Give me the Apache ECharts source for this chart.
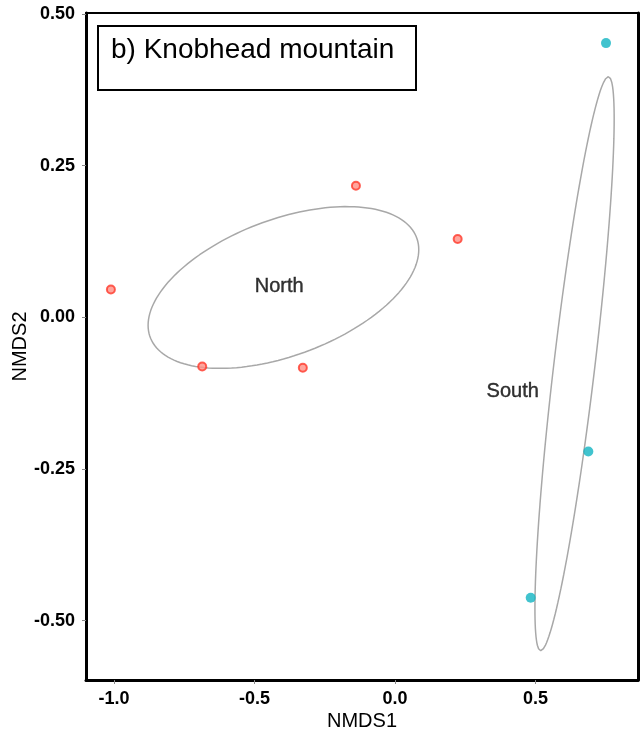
<!DOCTYPE html>
<html>
<head>
<meta charset="utf-8">
<script src="https://cdn.jsdelivr.net/npm/echarts@6/dist/echarts.min.js"></script>
<style>
html,body{margin:0;padding:0;background:#fff;}
#chart{width:643px;height:739px;}
</style>
</head>
<body>
<div id="chart"></div>
<script>
// ---- data ----
const northX = [-1.011, -0.686, -0.328, -0.139, 0.223];
const northY = [0.046, -0.081, -0.083, 0.217, 0.129];
const southX = [0.751, 0.688, 0.483];
const southY = [0.452, -0.221, -0.462];

const groupNames = ['North', 'South'];
const groupLabelX = [-0.412, 0.419];
const groupLabelY = [0.0505, -0.1214];

// ellipse parameters (data units): centre, spread, covariance
const ellCenterX = [-0.397, 0.639];
const ellCenterY = [0.0492, -0.0764];
const ellSdX = [0.4816, 0.141];
const ellSdY = [0.1333, 0.473];
const ellCov = [0.030, 0.0569];

const xTicks = [-1.0, -0.5, 0.0, 0.5];
const yTicks = [-0.50, -0.25, 0.00, 0.25, 0.50];

const xMin = -1.0996, xMax = 0.8648;
const yMin = -0.5977, yMax = 0.5016;

function ellipse(i) {
  const pts = [];
  const sx = ellSdX[i];
  const b = ellCov[i] / sx;
  const c = Math.sqrt(ellSdY[i] * ellSdY[i] - b * b);
  const n = 160;
  for (let k = 0; k <= n; k++) {
    const t = 2 * Math.PI * k / n;
    pts.push([ellCenterX[i] + sx * Math.cos(t), ellCenterY[i] + b * Math.cos(t) + c * Math.sin(t)]);
  }
  return pts;
}

const zip = (a, b) => a.map((v, i) => [v, b[i]]);
const FONT = 'Liberation Sans, Arial, Helvetica, sans-serif';

const chart = echarts.init(document.getElementById('chart'), null, {renderer: 'canvas'});

const labelStyle = {fontFamily: FONT, fontWeight: 'bold', fontSize: 18, color: '#000'};

chart.setOption({
  backgroundColor: '#fff',
  animation: false,
  grid: {left: 86, right: 5, top: 13, bottom: 59, containLabel: false, outerBoundsMode: 'none'},
  xAxis: [{
    type: 'value', min: xMin, max: xMax, position: 'bottom',
    axisLine: {show: true, onZero: false, lineStyle: {color: '#000', width: 3}},
    splitLine: {show: false},
    axisTick: {show: true, customValues: xTicks, length: 4, lineStyle: {color: '#888', width: 1}},
    axisLabel: Object.assign({customValues: xTicks, margin: 10, formatter: v => v.toFixed(1)}, labelStyle),
    name: 'NMDS1', nameLocation: 'middle', nameGap: 31, nameMoveOverlap: false,
    nameTextStyle: {fontFamily: FONT, fontSize: 20, color: '#000'}
  }, {
    type: 'value', min: xMin, max: xMax, position: 'top',
    axisLine: {show: true, onZero: false, lineStyle: {color: '#000', width: 2}},
    splitLine: {show: false}, axisTick: {show: false}, axisLabel: {show: false}
  }],
  yAxis: [{
    type: 'value', min: yMin, max: yMax, position: 'left',
    axisLine: {show: true, onZero: false, lineStyle: {color: '#000', width: 3}},
    splitLine: {show: false},
    axisTick: {show: true, customValues: yTicks, length: 4, lineStyle: {color: '#888', width: 1}},
    axisLabel: Object.assign({customValues: yTicks, margin: 11, formatter: v => v.toFixed(2)}, labelStyle),
    name: 'NMDS2', nameLocation: 'middle', nameGap: 56, nameRotate: 90, nameMoveOverlap: false,
    nameTextStyle: {fontFamily: FONT, fontSize: 20, color: '#000'}
  }, {
    type: 'value', min: yMin, max: yMax, position: 'right',
    axisLine: {show: true, onZero: false, lineStyle: {color: '#000', width: 3}},
    splitLine: {show: false}, axisTick: {show: false}, axisLabel: {show: false}
  }],
  graphic: [{
    type: 'rect', shape: {x: 98, y: 26, width: 318, height: 64},
    style: {fill: '#fff', stroke: '#000', lineWidth: 2}, z: 10
  }, {
    type: 'text', x: 111, y: 50, z: 11,
    style: {text: 'b) Knobhead mountain', font: '28px ' + FONT, fill: '#000', verticalAlign: 'middle', align: 'left'}
  }],
  series: [
    {
      type: 'line', data: ellipse(0), showSymbol: false, smooth: false, silent: true,
      lineStyle: {color: '#a8a8a8', width: 1.5}, z: 2
    },
    {
      type: 'line', data: ellipse(1), showSymbol: false, smooth: false, silent: true,
      lineStyle: {color: '#a8a8a8', width: 1.5}, z: 2
    },
    {
      type: 'scatter', data: zip(northX, northY), symbol: 'circle', symbolSize: 8,
      itemStyle: {color: '#ff8f85', borderColor: '#ff3a2c', borderWidth: 2}, z: 4
    },
    {
      type: 'scatter', data: zip(southX, southY), symbol: 'circle', symbolSize: 10,
      itemStyle: {color: '#12b4c2'}, z: 4
    },
    {
      type: 'scatter', symbolSize: 0, silent: true,
      data: groupNames.map((n, i) => ({name: n, value: [groupLabelX[i], groupLabelY[i]]})),
      label: {show: true, position: 'inside', formatter: p => p.name,
        fontFamily: FONT, fontSize: 20, color: '#000', textBorderColor: '#000', textBorderWidth: 0.4}, z: 5
    }
  ]
});
</script>
</body>
</html>
